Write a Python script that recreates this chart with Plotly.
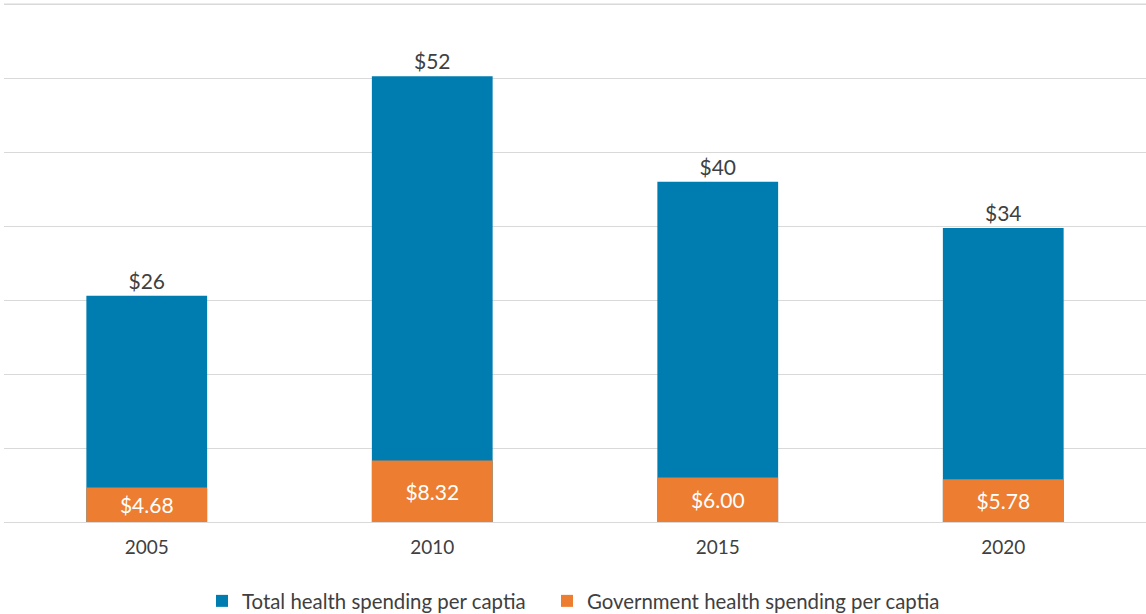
import plotly.graph_objects as go

years = ["2005", "2010", "2015", "2020"]
total_spending = [26.4, 52.0, 39.7, 34.3]
gov_spending = [4.68, 8.32, 6.00, 5.78]
total_name = "Total health spending per captia"
gov_name = "Government health spending per captia"

BLUE = "#007DB0"
ORANGE = "#ED7D31"
TEXT = "#404040"
GRID = "#D9D9D9"
FONT = "Lato, Open Sans, sans-serif"

fig = go.Figure()
fig.add_trace(go.Bar(
    x=years, y=total_spending, name=total_name, yaxis="y", legend="legend",
    marker=dict(color=BLUE, line=dict(width=0)), width=0.423,
    texttemplate="$%{y:.0f}", textposition="outside", cliponaxis=False,
    textfont=dict(size=21, color=TEXT, family=FONT), constraintext="none",
))
fig.add_trace(go.Bar(
    x=years, y=gov_spending, name=gov_name, yaxis="y2", legend="legend2",
    marker=dict(color=ORANGE, line=dict(width=0)), width=0.423,
    texttemplate="$%{y:.2f}", textposition="inside", insidetextanchor="middle",
    textfont=dict(size=21, color="white", family=FONT), constraintext="none",
))

legend_common = dict(orientation="h", xref="container", xanchor="left",
                     yref="container", y=0.021, yanchor="middle",
                     font=dict(size=20.4, color=TEXT, family=FONT),
                     itemwidth=30, bgcolor="rgba(0,0,0,0)")

fig.update_layout(
    width=1146, height=614,
    margin=dict(l=4, r=0, t=0, b=92, autoexpand=False),
    paper_bgcolor="white", plot_bgcolor="white",
    barmode="overlay",
    font=dict(family=FONT, color=TEXT, size=19),
    xaxis=dict(type="category", showline=False, showgrid=False, zeroline=False,
               ticks="outside", ticklen=8, tickcolor="rgba(0,0,0,0)",
               tickfont=dict(size=19, color=TEXT, family=FONT)),
    yaxis=dict(range=[0, 60.9], showgrid=False, zeroline=False,
               showticklabels=False, showline=False),
    yaxis2=dict(range=[0, 70.58], dtick=10, tick0=0, overlaying="y", side="right",
                showgrid=True, gridcolor=GRID, gridwidth=1.3,
                zeroline=True, zerolinecolor=GRID, zerolinewidth=1.3,
                showticklabels=False, showline=False),
    legend=dict(legend_common, x=202 / 1146),
    legend2=dict(legend_common, x=547 / 1146),
    shapes=[dict(type="line", xref="paper", x0=0, x1=1,
                 yref="paper", y0=70 / 70.58, y1=70 / 70.58,
                 line=dict(color=GRID, width=1.6), layer="below")],
    showlegend=True,
)

fig.write_html("out.html", config={"displayModeBar": False},
               post_script="document.body.style.margin='0';")
